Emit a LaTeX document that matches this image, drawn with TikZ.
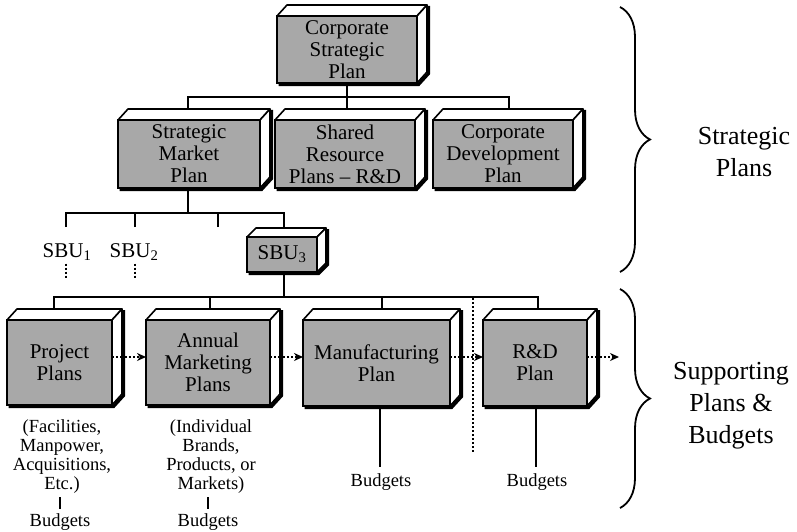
\documentclass[tikz,border=0pt]{standalone}
\usepackage{fontspec}
\setmainfont{Liberation Serif}
\usetikzlibrary{arrows.meta,decorations.pathreplacing}
\definecolor{boxgray}{RGB}{168,168,168}
\newcommand\boxfnt{\fontsize{21}{22}\selectfont}
\newcommand\smallfnt{\fontsize{18.5}{19}\selectfont}
\newcommand\labfnt{\fontsize{26}{32}\selectfont}
% 3D faces of a box node: #1 name, #2 depth right, #3 depth up
\newcommand\boxfaces[3]{%
  \draw[face] (#1.north west) -- ++(#2,-#3) -- ([shift={(#2,-#3)}]#1.north east) -- (#1.north east) -- cycle;
  \draw[face] (#1.north east) -- ++(#2,-#3) -- ([shift={(#2,-#3)}]#1.south east) -- (#1.south east) -- cycle;
  \draw[shadowline] ([shift={(1.5,1.5)}]#1.south west) -- ([shift={(1.5,1.5)}]#1.south east) -- ([shift={(#2+1.5,-#3+1.5)}]#1.south east) -- ([shift={(#2+1.5,-#3+1)}]#1.north east);
}
\tikzset{
  tbox/.style={draw, fill=boxgray, line width=1.8pt, inner sep=0pt, outer sep=0pt, align=center, font=\boxfnt},
  face/.style={draw, fill=white, line width=1.6pt, line join=round},
  shadowline/.style={draw, line width=3.2pt, line join=miter},
  conn/.style={line width=1.8pt},
  dotsty/.style={line width=2pt, dash pattern=on 2pt off 2pt},
  darrow/.style={line width=2pt, dash pattern=on 2pt off 2.2pt, -{Stealth[length=9pt,width=8pt]}},
  small/.style={font=\smallfnt, align=center, inner sep=0pt},
  lab/.style={font=\labfnt, align=center, inner sep=0pt},
  bracesty/.style={line width=1.8pt, decorate, decoration={brace, amplitude=30pt}}
}
\begin{document}
\begin{tikzpicture}[x=1pt,y=-1pt]
\useasboundingbox (0,0) rectangle (797,532);

% ---- boxes
\node[tbox, minimum width=140pt, minimum height=67pt] (top) at (347,49.5) {Corporate\\Strategic\\Plan};
\boxfaces{top}{10}{11}
\node[tbox, minimum width=142pt, minimum height=68pt] (smp) at (189,154) {Strategic\\Market\\Plan};
\boxfaces{smp}{10}{11}
\node[tbox, minimum width=140pt, minimum height=68pt] (srp) at (345,154) {Shared\\Resource\\Plans -- R\&D};
\boxfaces{srp}{10}{11}
\node[tbox, minimum width=140pt, minimum height=68pt] (cdp) at (503,154) {Corporate\\Development\\Plan};
\boxfaces{cdp}{10}{11}
\node[tbox, minimum width=70pt, minimum height=35pt] (sbu3) at (282,254.5) {SBU\textsubscript{3}};
\boxfaces{sbu3}{9}{9}
\node[tbox, minimum width=105pt, minimum height=85pt] (proj) at (59.5,362.5) {Project\\Plans};
\boxfaces{proj}{10}{11}
\node[tbox, minimum width=124pt, minimum height=85pt] (ann) at (208,362.5) {Annual\\Marketing\\Plans};
\boxfaces{ann}{10}{11}
\node[tbox, minimum width=147pt, minimum height=86pt] (mfg) at (376.5,363) {Manufacturing\\Plan};
\boxfaces{mfg}{10}{11}
\node[tbox, minimum width=104pt, minimum height=86pt] (rd) at (535,363) {R\&D\\Plan};
\boxfaces{rd}{10}{11}

% ---- SBU labels
\node[font=\boxfnt, inner sep=0pt] (sbu1) at (67,252) {SBU\textsubscript{1}};
\node[font=\boxfnt, inner sep=0pt] (sbu2) at (134,252) {SBU\textsubscript{2}};

% ---- level 1 -> level 2
\coordinate (smpT) at ([shift={(-1,-11)}]smp.north);
\coordinate (srpT) at ([shift={(2,-11)}]srp.north);
\coordinate (cdpT) at ([shift={(6,-11)}]cdp.north);
\draw[conn] (top.south) -- ++(0,14) coordinate (b1);
\draw[conn] (smpT) |- (b1) -| (cdpT);
\draw[conn] (srpT) -- (srpT |- b1);

% ---- level 2 -> SBUs
\coordinate (s1T) at (66,227);
\coordinate (s2T) at (135,227);
\coordinate (s4T) at (218,227);
\coordinate (sbu3T) at ([shift={(2,-9)}]sbu3.north);
\draw[conn] ([xshift=-1pt]smp.south) -- ++(0,25) coordinate (b2);
\draw[conn] (s1T) |- (b2) -| (sbu3T);
\draw[conn] (s2T) -- (s2T |- b2);
\draw[conn] (s4T) -- (s4T |- b2);
\draw[dotsty] ([xshift=-1pt]sbu1.south) ++(0,3) -- ++(0,14);
\draw[dotsty] ([xshift=1pt]sbu2.south) ++(0,3) -- ++(0,14);

% ---- SBU3 -> supporting plans
\coordinate (projT) at ([shift={(-5.5,-11)}]proj.north);
\coordinate (annT) at ([shift={(2,-11)}]ann.north);
\coordinate (mfgT) at ([shift={(5.5,-11)}]mfg.north);
\coordinate (rdT) at ([shift={(3,-11)}]rd.north);
\draw[conn] ([xshift=2pt]sbu3.south) -- ++(0,25) coordinate (b3);
\draw[conn] (projT) |- (b3) -| (rdT);
\draw[conn] (annT) -- (annT |- b3);
\draw[conn] (mfgT) -- (mfgT |- b3);

% ---- vertical dotted divider
\coordinate (dv1) at (473,298);
\coordinate (dv2) at (473,452);
\draw[dotsty] (dv1) -- (dv2);

% ---- dotted arrows
\coordinate (a1) at ([yshift=5.5pt]proj.east);
\coordinate (a2) at ([yshift=5.5pt]ann.east);
\coordinate (a3) at ([yshift=6pt]mfg.east);
\coordinate (a4) at ([yshift=6pt]rd.east);
\coordinate (rdOut) at (619,357);
\draw[darrow] (a1) -- (a1 -| ann.west);
\draw[darrow] (a2) -- (a2 -| mfg.west);
\draw[darrow] (a3) -- (a3 -| rd.west);
\draw[darrow] (a4) -- (rdOut);

% ---- texts below
\node[small] (ptxt) at (62,457) {(Facilities,\\Manpower,\\Acquisitions,\\Etc.)};
\node[small] (atxt) at (211,457) {(Individual\\Brands,\\Products, or\\Markets)};
\node[small] (pbud) at (60,522) {Budgets};
\node[small] (abud) at (208,522) {Budgets};
\node[small] (mbud) at (381,482) {Budgets};
\node[small] (rbud) at (537,482) {Budgets};
\draw[conn, shorten <=3pt, shorten >=4pt] (pbud.north |- ptxt.south) -- (pbud.north);
\draw[conn, shorten <=3pt, shorten >=4pt] (abud.north |- atxt.south) -- (abud.north);
\draw[conn, shorten >=6pt] ([xshift=-1pt]mbud.north |- mfg.south) -- ([xshift=-1pt]mbud.north);
\draw[conn, shorten >=6pt] ([xshift=-1pt]rbud.north |- rd.south) -- ([xshift=-1pt]rbud.north);

% ---- braces and labels
\coordinate (br1a) at (620,7);
\coordinate (br1b) at (620,272);
\coordinate (br2a) at (620,289);
\coordinate (br2b) at (620,508);
\draw[bracesty] (br1a) -- (br1b);
\draw[bracesty] (br2a) -- (br2b);
\node[lab] (lab1) at (744,152) {Strategic\\Plans};
\node[lab] (lab2) at (731,406) {Supporting\\Plans \&\\Budgets};
\end{tikzpicture}
\end{document}
